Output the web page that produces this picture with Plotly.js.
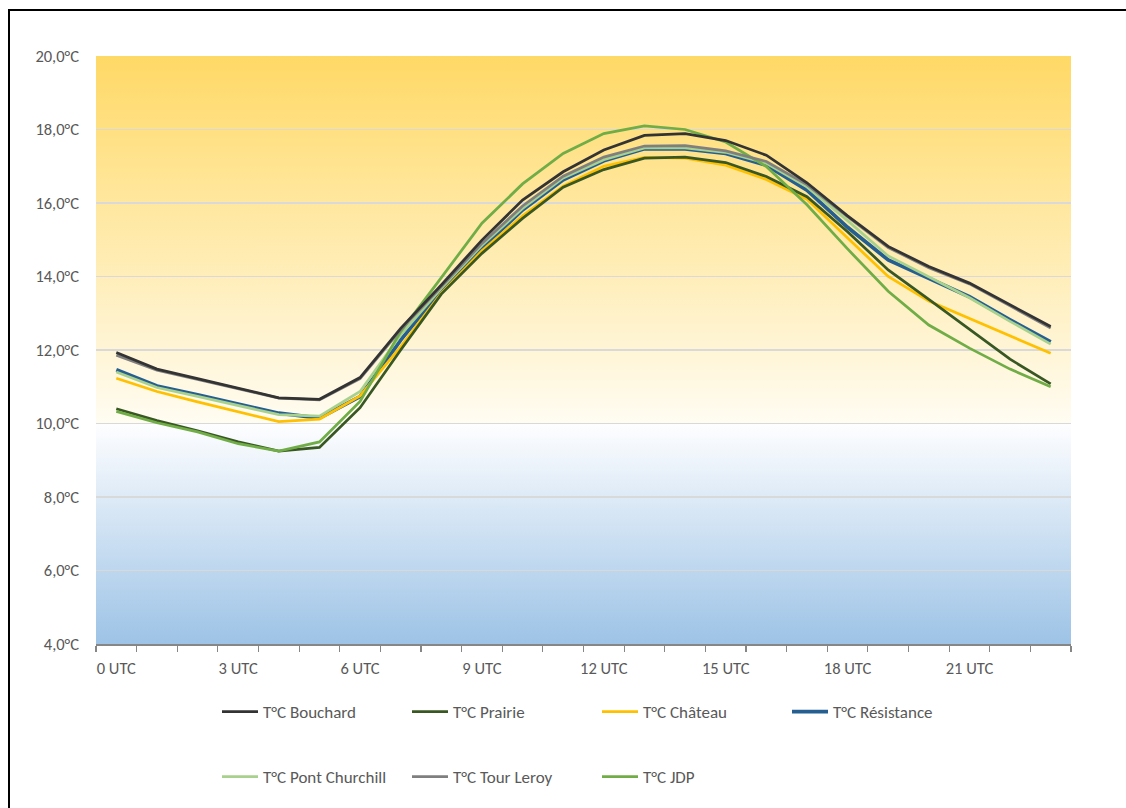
<!DOCTYPE html>
<html>
<head>
<meta charset="utf-8">
<script src="https://cdn.plot.ly/plotly-3.0.1.min.js"></script>
<style>
  html, body { margin: 0; padding: 0; background: #ffffff; }
  #chart { position: absolute; left: 0; top: 0; width: 1126px; height: 808px; }
  #frame { position: absolute; left: 8px; top: 9px; width: 1300px; height: 1000px;
           border: 2px solid #000; pointer-events: none; }
</style>
</head>
<body>
<div id="chart"></div>
<div id="frame"></div>
<script>
// ---- data ----
var hours = ["0 UTC","1 UTC","2 UTC","3 UTC","4 UTC","5 UTC","6 UTC","7 UTC","8 UTC","9 UTC","10 UTC","11 UTC",
             "12 UTC","13 UTC","14 UTC","15 UTC","16 UTC","17 UTC","18 UTC","19 UTC","20 UTC","21 UTC","22 UTC","23 UTC"];
var hourLabels = ["0 UTC","","","3 UTC","","","6 UTC","","","9 UTC","","","12 UTC","","","15 UTC","","","18 UTC","","","21 UTC","",""];

var bouchard   = [11.93,11.48,11.22,10.96,10.70,10.66,11.25,12.59,13.77,14.99,16.08,16.85,17.44,17.84,17.89,17.70,17.30,16.55,15.65,14.82,14.27,13.82,13.22,12.64];
var prairie    = [10.40,10.08,9.80,9.50,9.25,9.35,10.43,12.00,13.52,14.63,15.58,16.43,16.91,17.22,17.25,17.10,16.72,16.17,15.22,14.18,13.38,12.57,11.75,11.08];
var chateau    = [11.23,10.87,10.59,10.32,10.05,10.12,10.75,12.09,13.55,14.70,15.65,16.46,17.00,17.24,17.22,17.03,16.64,16.10,15.04,14.00,13.33,12.86,12.38,11.91];
var resistance = [11.46,11.02,10.78,10.53,10.28,10.15,10.73,12.27,13.63,14.77,15.81,16.63,17.15,17.48,17.47,17.35,17.03,16.35,15.34,14.45,13.96,13.45,12.82,12.22];
var churchill  = [11.40,10.98,10.74,10.48,10.24,10.20,10.87,12.41,13.68,14.85,15.85,16.68,17.18,17.50,17.50,17.38,17.08,16.44,15.52,14.56,14.00,13.42,12.78,12.16];
var leroy      = [11.86,11.45,11.20,10.94,10.69,10.64,11.22,12.55,13.74,14.90,15.92,16.73,17.25,17.55,17.56,17.42,17.13,16.50,15.63,14.79,14.24,13.80,13.20,12.60];
var jdp        = [10.33,10.02,9.77,9.45,9.25,9.50,10.60,12.50,13.97,15.45,16.52,17.35,17.89,18.10,18.00,17.66,16.99,15.95,14.75,13.60,12.68,12.05,11.48,11.00];

var names = ["T°C Bouchard","T°C Prairie","T°C Château","T°C Résistance","T°C Pont Churchill","T°C Tour Leroy","T°C JDP"];

// ---- styling ----
var FONT = "Carlito, 'Liberation Sans Narrow', 'Liberation Sans', sans-serif";
var TXT = "#595959";

function line(y, name, color, width, legend) {
  return { x: hours, y: y, name: name, type: "scatter", mode: "lines",
           line: { color: color, width: width }, legend: legend };
}

var traces = [
  line(bouchard,   names[0], "#333333", 2.75, "legend"),
  line(prairie,    names[1], "#385723", 2.75, "legend"),
  line(chateau,    names[2], "#FFC000", 2.75, "legend"),
  line(resistance, names[3], "#255E91", 3.75, "legend"),
  line(churchill,  names[4], "#A9D18E", 2.75, "legend2"),
  line(leroy,      names[5], "#7F7F7F", 2.75, "legend2"),
  line(jdp,        names[6], "#70AD47", 2.75, "legend2")
];
var order = [3,4,2,1,6,5,0];
var drawn = order.map(function(i){ return traces[i]; });
drawn.forEach(function(t){ t.legendrank = names.indexOf(t.name) + 1; });

var grad = '<svg xmlns="http://www.w3.org/2000/svg" width="100" height="100" viewBox="0 0 100 100" preserveAspectRatio="none">' +
  '<defs><linearGradient id="g" x1="0" y1="0" x2="0" y2="1">' +
  '<stop offset="0" stop-color="#FFD966"/>' +
  '<stop offset="0.625" stop-color="#FFFCF2"/>' +
  '<stop offset="0.625" stop-color="#FEFEFF"/>' +
  '<stop offset="1" stop-color="#9DC3E6"/>' +
  '</linearGradient></defs><rect x="0" y="0" width="100" height="100" fill="url(#g)"/></svg>';

var legendCommon = {
  orientation: "h", xref: "container", yref: "container",
  xanchor: "left", yanchor: "middle",
  entrywidth: 139, entrywidthmode: "pixels", itemwidth: 36,
  bgcolor: "rgba(0,0,0,0)", borderwidth: 0,
  font: { family: FONT, size: 17, color: TXT },
  traceorder: "normal"
};

var layout = {
  width: 1126, height: 808,
  margin: { l: 96, r: 55, t: 56, b: 164, autoexpand: false },
  paper_bgcolor: "rgba(0,0,0,0)",
  plot_bgcolor: "rgba(0,0,0,0)",
  showlegend: true,
  font: { family: FONT, size: 16, color: TXT },
  xaxis: {
    type: "category", categoryorder: "array", categoryarray: hours,
    tickmode: "array", tickvals: hours, ticktext: hourLabels, tickangle: 0,
    tickson: "boundaries", ticks: "outside", ticklen: 6, tickwidth: 1.2, tickcolor: "#868686",
    showline: true, linecolor: "#868686", linewidth: 1.5,
    showgrid: false, zeroline: false, automargin: false,
    ticklabelstandoff: 9,
    tickfont: { family: FONT, size: 16.5, color: TXT },
    range: [-0.5, 23.5]
  },
  yaxis: {
    range: [4, 20], dtick: 2, tick0: 4,
    tickformat: ".1f", ticksuffix: "°C",
    showgrid: true, gridcolor: "#D9D9D9", gridwidth: 1.5,
    zeroline: false, showline: false, ticks: "", automargin: false,
    ticklabelstandoff: 16,
    tickfont: { family: FONT, size: 16.5, color: TXT }
  },
  separators: ",.",
  images: [{
    source: "data:image/svg+xml;charset=utf-8," + encodeURIComponent(grad),
    xref: "paper", yref: "paper", x: 0, y: 1, sizex: 1, sizey: 1,
    xanchor: "left", yanchor: "top", sizing: "stretch", layer: "below"
  }],
  legend: Object.assign({}, legendCommon, { x: 217 / 1126, y: 1 - 712 / 808 }),
  legend2: Object.assign({}, legendCommon, { x: 217 / 1126, y: 1 - 777 / 808 })
};

Plotly.newPlot("chart", drawn, layout, { displayModeBar: false, staticPlot: true });
</script>
</body>
</html>
